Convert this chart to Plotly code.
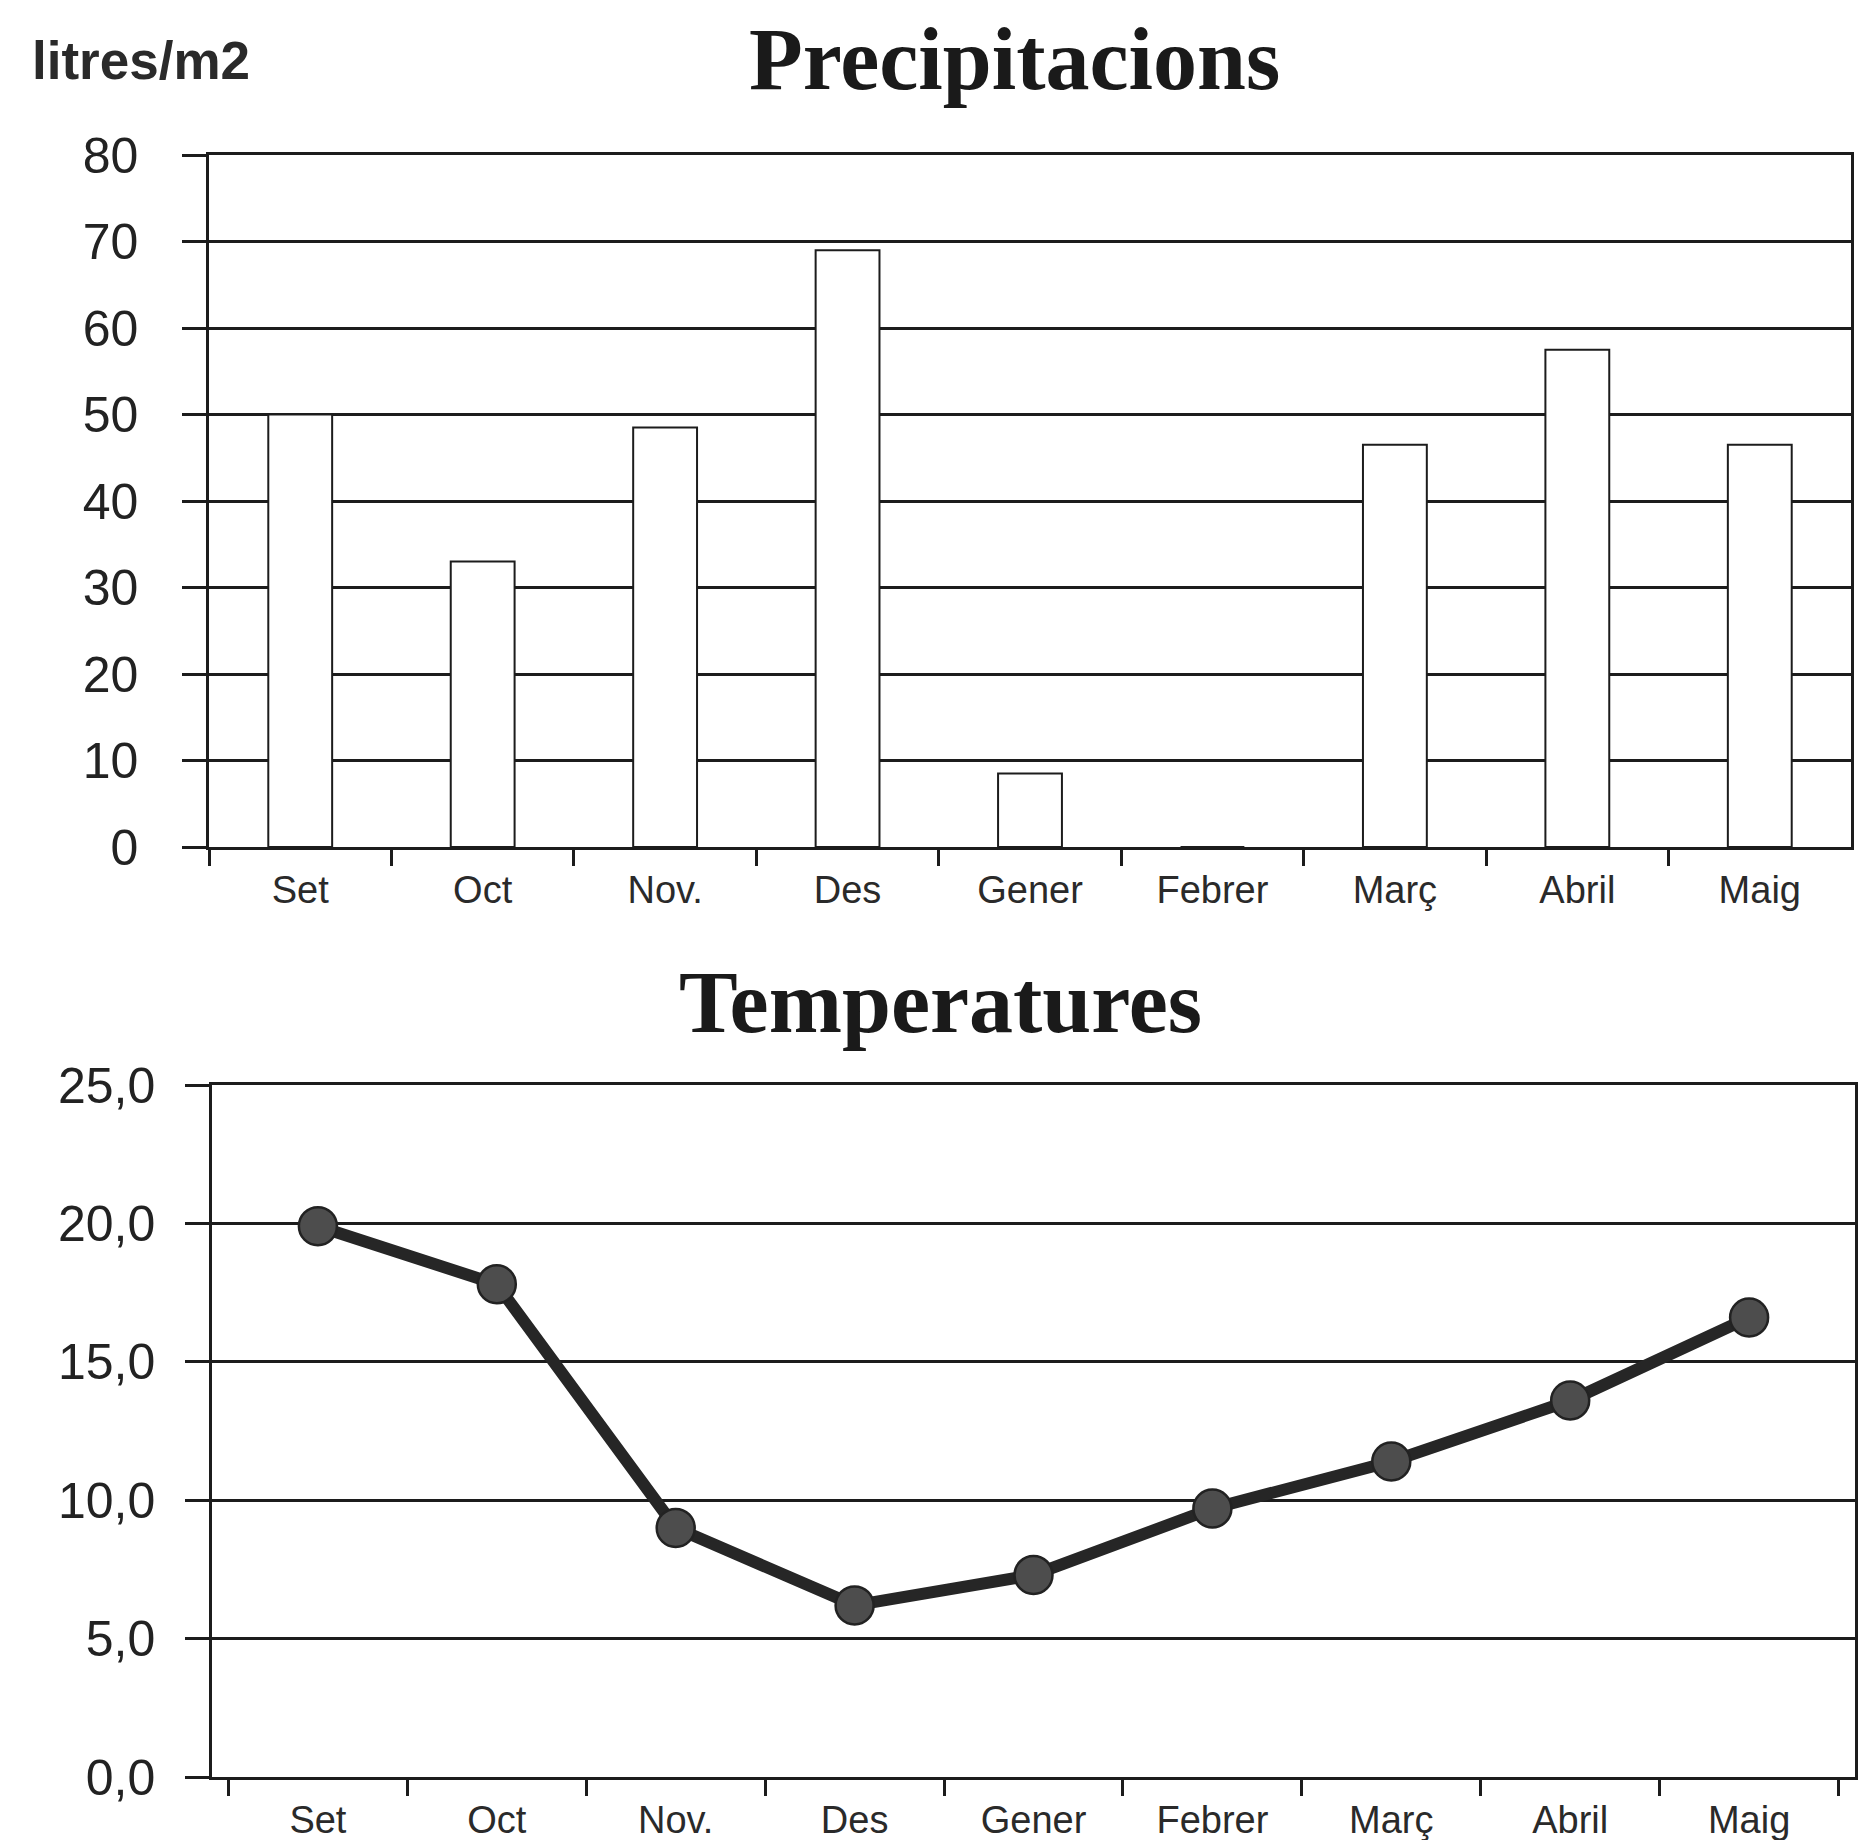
import plotly.graph_objects as go

months = ["Set", "Oct", "Nov.", "Des", "Gener", "Febrer", "Març", "Abril", "Maig"]
precip = [50, 33, 48.5, 69, 8.5, 0, 46.5, 57.5, 46.5]
temps = [19.9, 17.8, 9.0, 6.2, 7.3, 9.7, 11.4, 13.6, 16.6]
precip_ticks = [0, 10, 20, 30, 40, 50, 60, 70, 80]
temp_ticks = [0, 5, 10, 15, 20, 25]

PAGE_W, PAGE_H = 1870, 1840
OFF = 8  # default body margin of the page
W, H = PAGE_W - OFF, PAGE_H - OFF
INK = "#1c1c1c"
SANS = "Liberation Sans, Arial, sans-serif"
SERIF = "Liberation Serif, Times New Roman, serif"

def fx(px):
    return (px - OFF) / W

def fy(py):
    return 1 - (py - OFF) / H

fig = go.Figure()
fig.add_trace(go.Bar(
    x=months, y=precip, width=0.35,
    marker=dict(color="white", line=dict(color=INK, width=2)),
    xaxis="x", yaxis="y", showlegend=False,
))
fig.add_trace(go.Scatter(
    x=months, y=temps, mode="lines+markers",
    line=dict(color="#262626", width=12),
    marker=dict(size=38, color="#4d4d4d", line=dict(color="#222222", width=2.5)),
    xaxis="x2", yaxis="y2", showlegend=False,
))

xcommon = dict(
    type="category", showline=True, linecolor=INK, linewidth=2.5, mirror=True,
    ticks="outside", tickson="boundaries", ticklen=16, tickwidth=2.5, tickcolor=INK,
    showgrid=False, zeroline=False, automargin=False,
    tickfont=dict(family=SANS, size=38, color="#2a2a2a"),
    ticklabelstandoff=8,
)
ycommon = dict(
    showline=True, linecolor=INK, linewidth=2.5, mirror=True,
    ticks="outside", ticklen=24, tickwidth=2.5, tickcolor=INK,
    showgrid=True, gridcolor=INK, gridwidth=3, zeroline=False, automargin=False,
    tickfont=dict(family=SANS, size=50, color="#222222"),
)

fig.update_layout(
    width=W, height=H,
    margin=dict(l=0, r=0, t=0, b=0, autoexpand=False),
    paper_bgcolor="white", plot_bgcolor="white",
    separators=", ",
    xaxis=dict(domain=[fx(209), fx(1851)], anchor="y", **xcommon),
    yaxis=dict(domain=[fy(847), fy(155)], anchor="x", range=[0, 80],
               tickvals=precip_ticks, ticklabelstandoff=34, **ycommon),
    xaxis2=dict(domain=[fx(212), fx(1855)], anchor="y2", **xcommon),
    yaxis2=dict(domain=[fy(1777), fy(1085)], anchor="x2", range=[0, 25],
                tickvals=temp_ticks, tickformat=".1f", ticklabelstandoff=20, **ycommon),
    annotations=[
        dict(text="<b>Precipitacions</b>", xref="paper", yref="paper",
             x=fx(1014), y=fy(10), xanchor="center", yanchor="top", borderpad=0,
             showarrow=False, font=dict(family=SERIF, size=88, color="#1a1a1a")),
        dict(text="<b>Temperatures</b>", xref="paper", yref="paper",
             x=fx(940), y=fy(1002), xanchor="center", yanchor="middle",
             showarrow=False, font=dict(family=SERIF, size=88, color="#1a1a1a")),
        dict(text="<b>litres/m2</b>", xref="paper", yref="paper",
             x=fx(30), y=fy(60), xanchor="left", yanchor="middle",
             showarrow=False, font=dict(family=SANS, size=53, color="#2a2a2a")),
    ],
)

fig.write_html("out.html")
